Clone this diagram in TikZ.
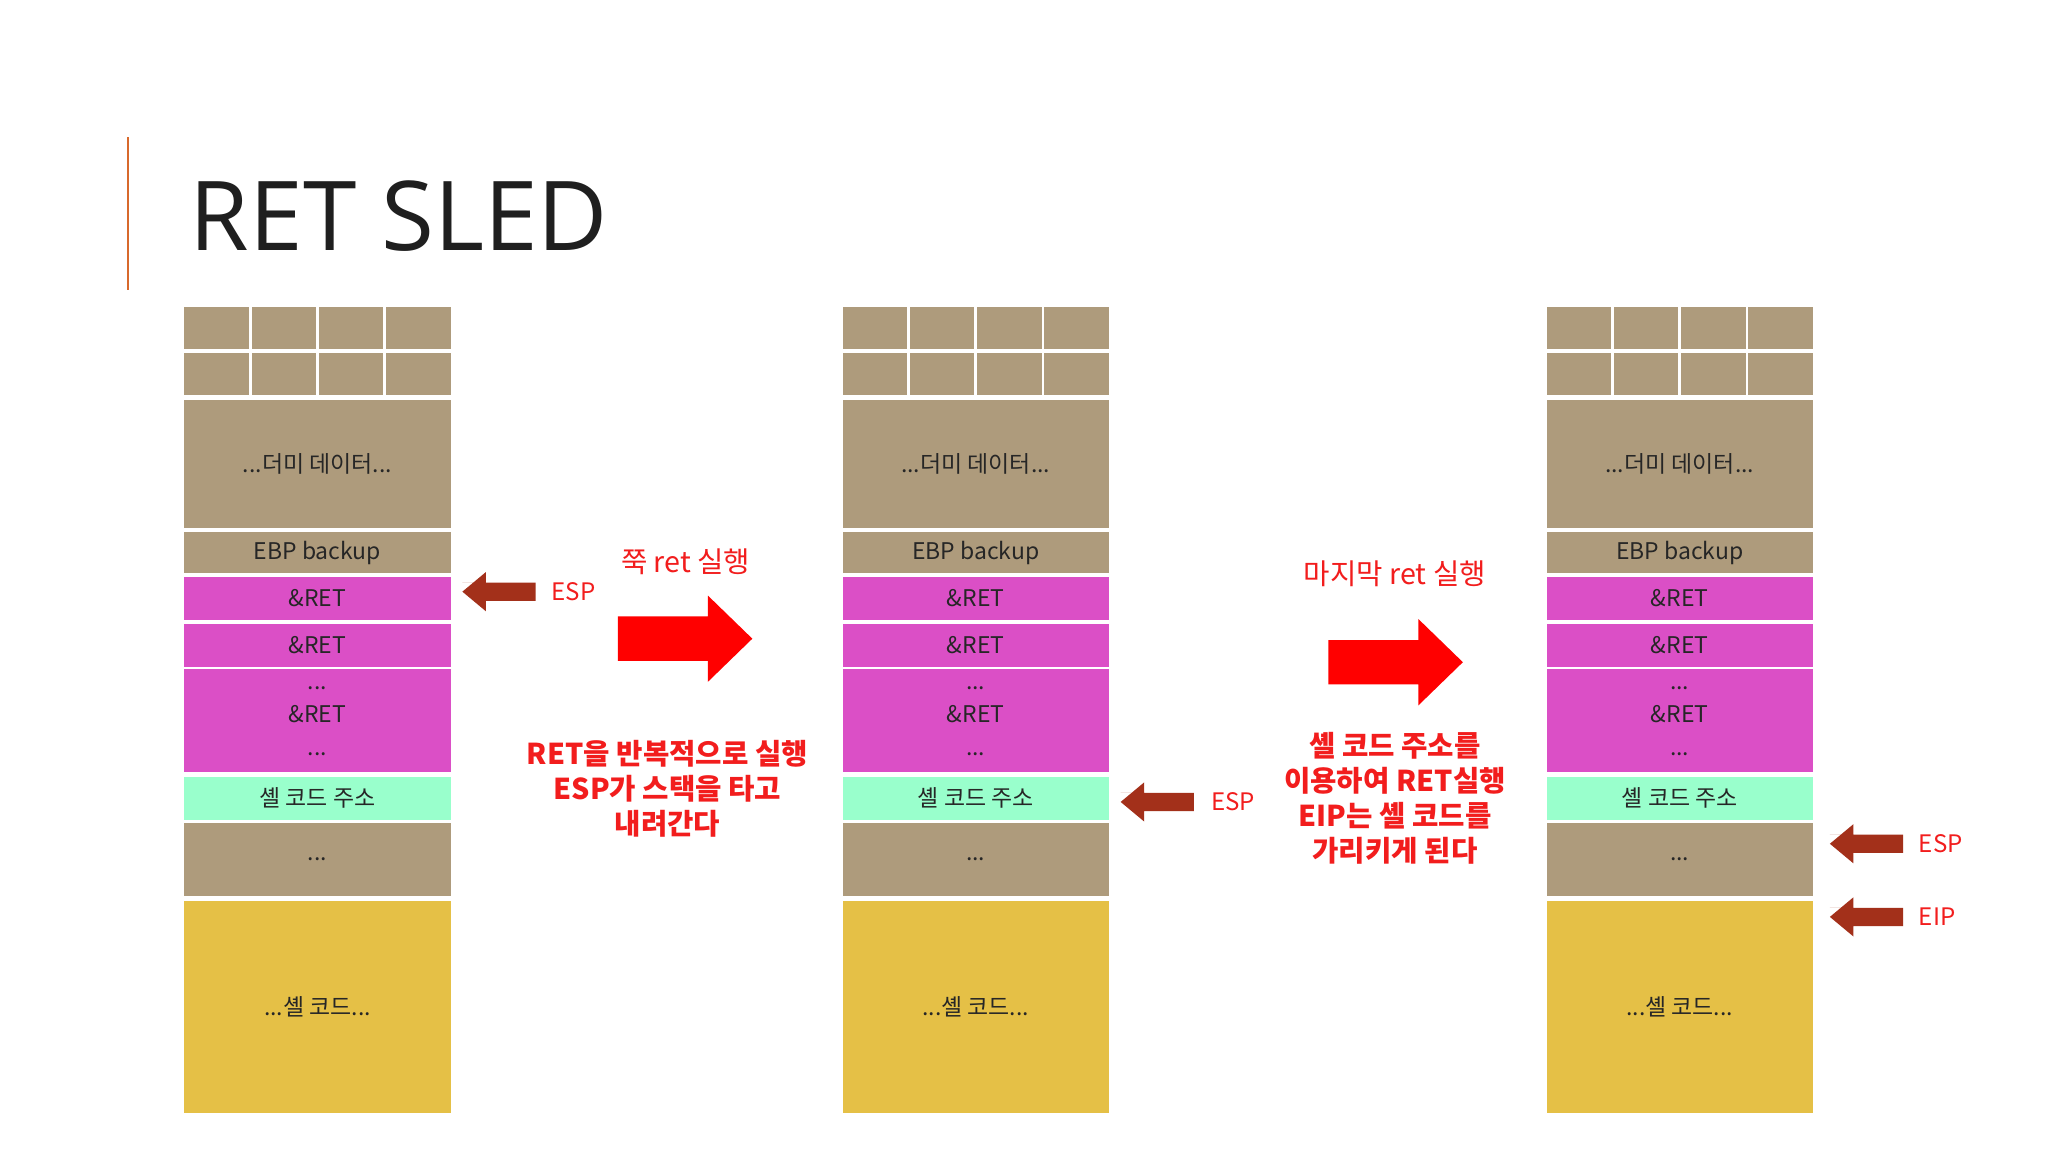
\documentclass[tikz,border=0pt]{standalone}
\usepackage{fontspec}
\setmainfont{Noto Sans CJK KR}
\newfontfamily\titlefont{Open Sans}
\begin{document}
\begin{tikzpicture}[x=0.02cm,y=-0.02cm,
  cell/.style={draw=white,line width=1.2pt,inner sep=0pt,minimum width=4.12cm,font=\fontsize{10}{12}\selectfont,text=black!85},
  tan/.style={cell,fill=tanc},
  mag/.style={cell,fill=magc},
  mint/.style={cell,fill=mintc},
  gold/.style={cell,fill=goldc},
  lbl/.style={font=\fontsize{10.5}{12}\selectfont,text=redc,anchor=west},
  rtxt/.style={font=\fontsize{12.5}{15}\selectfont,text=redc,align=center},
  btxt/.style={font=\bfseries\fontsize{12.5}{15.3}\selectfont,text=redc,align=center}]
\definecolor{tanc}{HTML}{AE9B7C}
\definecolor{magc}{HTML}{DB4FC6}
\definecolor{mintc}{HTML}{99FFCC}
\definecolor{goldc}{HTML}{E5C046}
\definecolor{darkarr}{HTML}{A3301A}
\definecolor{redc}{HTML}{F21D1D}
\definecolor{orangec}{HTML}{D8692C}
\useasboundingbox (0,0) rectangle (1568,882);
\fill[white] (0,0) rectangle (1568,882);
\draw[orangec,line width=1.3pt] (98,105) -- (98,222);
\node[anchor=base west,inner sep=0pt,font=\titlefont\fontsize{42}{48}\selectfont,text=black!88] (title) at (145,192) {RET SLED};
\foreach \i/\x in {1/140,2/644,3/1183}{
  \foreach \r/\ya in {1/234,2/269}{
    \foreach \k in {0,1,2,3}{
      \node[tan,minimum width=1.03cm,minimum height=0.69cm] (g\i\r\k) at ({\x+25.75+51.5*\k},\ya+17.25) {};
    }
  }
  \node[tan,minimum height=2.0cm] (dm\i) at (\x+103,355) {...더미 데이터...};
  \node[tan,minimum height=0.68cm] (ebp\i) at (\x+103,423) {EBP backup};
  \node[mag,minimum height=0.7cm] (ra\i) at (\x+103,458) {\&RET};
  \node[mag,minimum height=0.7cm] (rb\i) at (\x+103,494) {\&RET};
  \node[mag,minimum height=1.62cm,align=center,font=\fontsize{10}{14.5}\selectfont] (rc\i) at (\x+103,552) {...\\\&RET\\...};
  \node[mint,minimum height=0.7cm] (sa\i) at (\x+103,611) {셸 코드 주소};
  \node[tan,minimum height=1.16cm] (dt\i) at (\x+103,658) {...};
  \node[gold,minimum height=3.3cm] (sc\i) at (\x+103,771) {...셸 코드...};
}
% dark arrows
\newcommand\darkarrow[3]{%
  \fill[darkarr] (#1,#2-7) -- (#1+18,#2-7) -- (#1+18,#2-15) -- (#1,#2) -- (#1+18,#2+15) -- (#1+18,#2+7) -- (#1+56,#2+7) -- (#1+56,#2-7) -- cycle;
  \coordinate (#3) at (#1,#2);}
\darkarrow{354}{453}{p1}
\node[lbl] (esp1) at (416,453) {ESP};
\darkarrow{858}{614}{p2}
\node[lbl] (esp2) at (921,614) {ESP};
\darkarrow{1401}{646}{p3}
\node[lbl] (esp3) at (1463,646) {ESP};
\darkarrow{1401}{702}{p4}
\node[lbl] (eip3) at (1463,702) {EIP};
% big red arrows
\newcommand\bigarrow[2]{%
  \fill[red] (#1,#2-17) -- (#1+69,#2-17) -- (#1+69,#2-33) -- (#1+103,#2) -- (#1+69,#2+33) -- (#1+69,#2+17) -- (#1,#2+17) -- cycle;}
\bigarrow{473}{489}
\bigarrow{1017}{507}
\node[rtxt] (t1) at (525,430) {쭉 ret 실행};
\node[btxt] (t2) at (511,604) {RET을 반복적으로 실행\\ESP가 스택을 타고\\내려간다};
\node[rtxt] (t3) at (1068,439) {마지막 ret 실행};
\node[btxt] (t4) at (1068,611) {셸 코드 주소를\\이용하여 RET실행\\EIP는 셸 코드를\\가리키게 된다};
\end{tikzpicture}
\end{document}
